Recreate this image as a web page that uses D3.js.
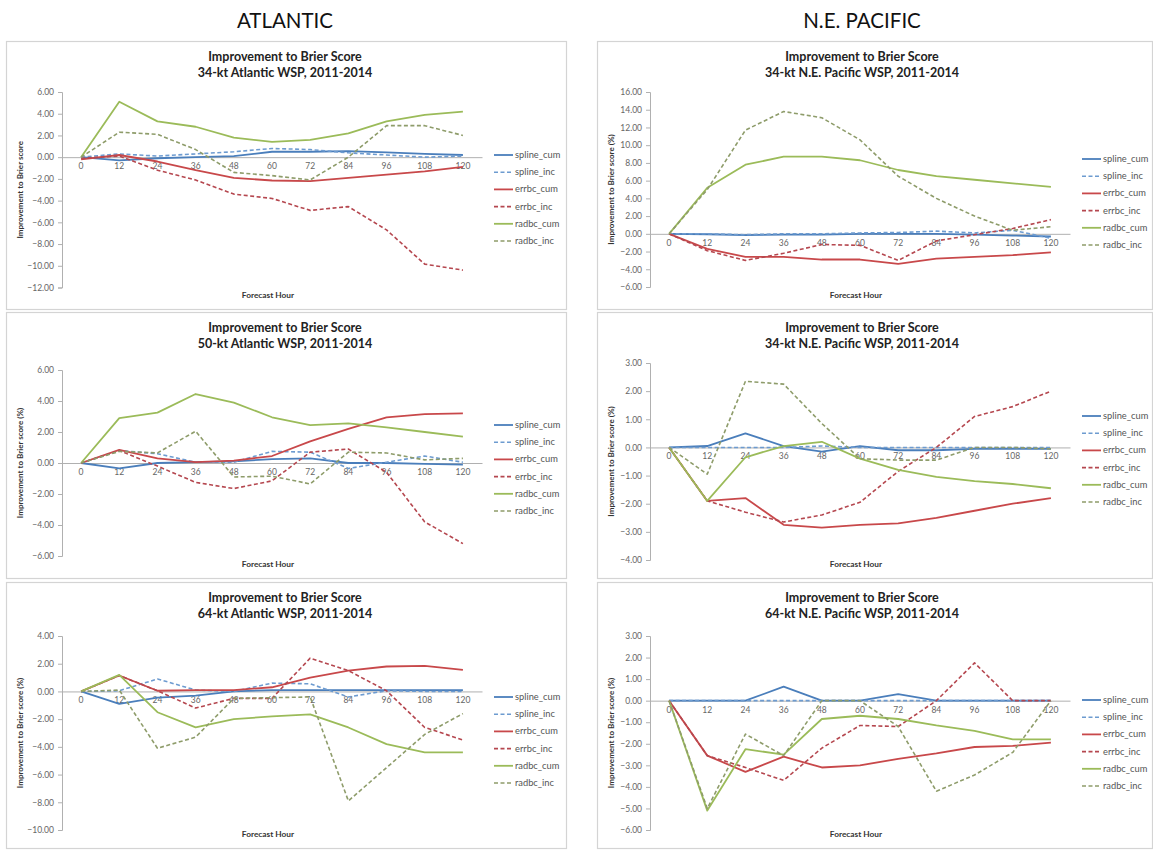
<!DOCTYPE html>
<html><head><meta charset="utf-8">
<script src="https://cdn.jsdelivr.net/npm/d3@7"></script>
<style>
body{margin:0;background:#fff;}
svg{display:block;font-family:Lato,"Open Sans",sans-serif;}
</style></head>
<body><svg id="c" width="1153" height="850"></svg>
<script>
// ---------------- DATA ----------------
const hours = [0,12,24,36,48,60,72,84,96,108,120];
const seriesNames = ["spline_cum","spline_inc","errbc_cum","errbc_inc","radbc_cum","radbc_inc"];
const sectionHeaders = ["ATLANTIC","N.E. PACIFIC"];

// series values per panel, order = seriesNames
const atl34 = [
  [0,-0.3,-0.1,0.0,0.1,0.5,0.5,0.55,0.45,0.3,0.2],
  [0,0.3,0.1,0.3,0.5,0.8,0.7,0.4,0.2,0.0,0.1],
  [-0.2,0.2,-0.4,-1.2,-1.9,-2.15,-2.2,-1.9,-1.6,-1.3,-0.9],
  [-0.1,0.1,-1.2,-2.1,-3.4,-3.8,-4.9,-4.55,-6.7,-9.85,-10.4],
  [0,5.1,3.3,2.8,1.8,1.4,1.6,2.2,3.3,3.9,4.2],
  [0,2.3,2.1,0.7,-1.4,-1.7,-2.1,0.0,2.9,2.9,2.0]
];
const pac34 = [
  [0,-0.05,-0.15,-0.1,-0.1,0,0,0,-0.1,-0.2,-0.3],
  [0,0,-0.1,0,0,0.1,0.15,0.3,0.1,0.4,-0.5],
  [0,-1.7,-2.6,-2.6,-2.9,-2.9,-3.4,-2.8,-2.6,-2.4,-2.1],
  [0,-1.9,-3.0,-2.2,-1.2,-1.3,-3.0,-0.8,-0.1,0.6,1.6],
  [0,5.2,7.8,8.7,8.7,8.3,7.2,6.5,6.1,5.7,5.3],
  [0,5.0,11.7,13.8,13.1,10.6,6.5,4.0,2.0,0.4,0.8]
];
const atl50 = [
  [0,-0.35,0.0,0.05,0.1,0.25,0.3,0.0,0.0,-0.05,-0.1],
  [0,0.8,0.6,0.05,0.05,0.75,0.7,-0.35,0.05,0.45,0.05],
  [0,0.85,0.3,0.05,0.15,0.45,1.4,2.2,2.95,3.15,3.2],
  [0,0.8,-0.2,-1.25,-1.65,-1.15,0.7,0.9,-0.6,-3.8,-5.2],
  [0,2.9,3.25,4.45,3.9,2.95,2.45,2.55,2.3,2.0,1.7],
  [0,0.75,0.65,2.05,-0.9,-0.85,-1.35,0.7,0.65,0.2,0.3]
];
const pac50 = [
  [0,0.05,0.5,0.05,-0.15,0.05,-0.1,-0.1,-0.05,-0.05,-0.05],
  [0,0,0,0,0.05,0,0,0,0,0,0],
  [0,-1.9,-1.8,-2.75,-2.85,-2.75,-2.7,-2.5,-2.25,-2.0,-1.8],
  [0,-1.9,-2.3,-2.65,-2.4,-1.95,-0.85,0.0,1.1,1.45,2.0],
  [0,-1.9,-0.35,0.05,0.2,-0.4,-0.8,-1.05,-1.2,-1.3,-1.45],
  [0,-0.95,2.35,2.25,0.85,-0.4,-0.45,-0.45,0.0,0.0,-0.05]
];
const atl64 = [
  [0,-0.9,-0.45,-0.3,0.0,0.1,0.1,0.1,0.1,0.1,0.1],
  [0,0.05,0.9,0.1,0.0,0.6,0.55,-0.4,0.05,0,0],
  [0,1.15,0.05,0.1,0.1,0.3,1.0,1.5,1.8,1.85,1.55],
  [0,1.15,0.05,-1.2,-0.5,-0.5,2.4,1.5,0.05,-2.6,-3.5],
  [0,1.2,-1.5,-2.6,-2.0,-1.8,-1.65,-2.6,-3.8,-4.4,-4.4],
  [0,0.1,-4.1,-3.3,-0.5,-0.45,-0.4,-7.9,-5.5,-3.1,-1.6]
];
const pac64 = [
  [0,0,0,0.65,0,0,0.3,0,0,0,0],
  [0,0,0,0,0,0,0,0,0,0,0],
  [0,-2.55,-3.3,-2.6,-3.1,-3.0,-2.7,-2.45,-2.15,-2.1,-1.95],
  [0,-2.55,-3.1,-3.7,-2.2,-1.15,-1.2,0.0,1.75,0.0,0.0],
  [0,-5.1,-2.25,-2.5,-0.85,-0.7,-0.85,-1.15,-1.4,-1.8,-1.8],
  [0,-5.0,-1.55,-2.55,0.0,0.0,-1.2,-4.2,-3.45,-2.4,0.0]
];

// y-axis tick values per panel
const atl34Ticks = [6,4,2,0,-2,-4,-6,-8,-10,-12];
const pac34Ticks = [16,14,12,10,8,6,4,2,0,-2,-4,-6];
const atl50Ticks = [6,4,2,0,-2,-4,-6];
const pac50Ticks = [3,2,1,0,-1,-2,-3,-4];
const atl64Ticks = [4,2,0,-2,-4,-6,-8,-10];
const pac64Ticks = [3,2,1,0,-1,-2,-3,-4,-5,-6];

const titleLine1 = "Improvement to Brier Score";
const subtitles = ["34-kt Atlantic WSP, 2011-2014","34-kt N.E. Pacific WSP, 2011-2014",
  "50-kt Atlantic WSP, 2011-2014","34-kt N.E. Pacific WSP, 2011-2014",
  "64-kt Atlantic WSP, 2011-2014","64-kt N.E. Pacific WSP, 2011-2014"];
const yTitles = ["Improvement to Brier score","Improvement to Brier score (%)",
  "Improvement to Brier score (%)","Improvement to Brier score (%)",
  "Improvement to Brier score (%)","Improvement to Brier score (%)"];
const xTitle = "Forecast Hour";

// ---------------- STYLE / LAYOUT ----------------
const colors = {spline:"#4a7ebb", errbc:"#c8484a", radbc:"#9bbb59"};
const incColors = {spline:"#6d9bd0", errbc:"#b5474f", radbc:"#8e9c6a"};

const panels = [
  {data:atl34, ticks:atl34Ticks, fx:6,   fy:41,  fw:560, fh:268, tc:285, x0:62,  x1:482,  yt:92,  yb:287.5, leg:114},
  {data:pac34, ticks:pac34Ticks, fx:597, fy:41,  fw:555, fh:268, tc:862, x0:650, x1:1070, yt:92,  yb:287,   leg:118},
  {data:atl50, ticks:atl50Ticks, fx:6,   fy:312, fw:560, fh:266, tc:285, x0:62,  x1:482,  yt:370, yb:556,   leg:113},
  {data:pac50, ticks:pac50Ticks, fx:597, fy:312, fw:555, fh:266, tc:862, x0:650, x1:1070, yt:363, yb:560,   leg:104},
  {data:atl64, ticks:atl64Ticks, fx:6,   fy:582, fw:560, fh:266, tc:285, x0:62,  x1:482,  yt:636, yb:830,   leg:115},
  {data:pac64, ticks:pac64Ticks, fx:597, fy:582, fw:555, fh:266, tc:862, x0:650, x1:1070, yt:636, yb:830,   leg:118}
];

const svg = d3.select("#c");
svg.append("rect").attr("width",1153).attr("height",850).attr("fill","#fff");

// section headers
svg.append("text").attr("x",285).attr("y",28).attr("text-anchor","middle")
  .attr("font-size",20.5).attr("fill","#111").text(sectionHeaders[0]);
svg.append("text").attr("x",862).attr("y",28).attr("text-anchor","middle")
  .attr("font-size",20.5).attr("fill","#111").text(sectionHeaders[1]);

panels.forEach((p,i)=>{
  const g = svg.append("g");
  g.append("rect").attr("x",p.fx+0.5).attr("y",p.fy+0.5).attr("width",p.fw).attr("height",p.fh)
    .attr("fill","#fff").attr("stroke","#d4d4d4").attr("stroke-width",1.2);

  const x = d3.scaleBand().domain(hours).range([p.x0,p.x1]);
  const y = d3.scaleLinear().domain([d3.min(p.ticks),d3.max(p.ticks)]).range([p.yb,p.yt]);
  const cx = h => x(h)+x.bandwidth()/2;

  // title
  g.append("text").attr("x",p.tc).attr("y",p.fy+20).attr("text-anchor","middle")
    .attr("font-size",12.5).attr("font-weight",700).attr("fill","#222").text(titleLine1);
  g.append("text").attr("x",p.tc).attr("y",p.fy+35.5).attr("text-anchor","middle")
    .attr("font-size",12.5).attr("font-weight",700).attr("fill","#222").text(subtitles[i]);

  // y axis
  const yAxis = d3.axisLeft(y).tickValues(p.ticks).tickFormat(d3.format(".2f")).tickSize(4).tickPadding(4);
  const ya = g.append("g").attr("transform",`translate(${p.x0},0)`).call(yAxis);
  ya.select(".domain").attr("stroke","#b0b0b0");
  ya.selectAll(".tick line").attr("stroke","#b0b0b0");
  ya.selectAll(".tick text").attr("fill","#666").attr("font-size",8.5).attr("font-family","Lato,sans-serif");

  // x axis at zero
  const xAxis = d3.axisBottom(x).tickSize(0).tickPadding(6);
  const xa = g.append("g").attr("transform",`translate(0,${y(0)})`).call(xAxis);
  xa.select(".domain").attr("stroke","#b0b0b0");
  xa.selectAll(".tick text").attr("fill","#666").attr("font-size",8.5).attr("font-family","Lato,sans-serif");

  // axis titles
  g.append("text").attr("transform",`translate(${p.fx+17},${(p.yt+p.yb)/2}) rotate(-90)`)
    .attr("text-anchor","middle").attr("font-size",8).attr("font-weight",700).attr("fill","#333").text(yTitles[i]);
  g.append("text").attr("x",(p.x0+p.x1)/2 - 4).attr("y",p.fy+p.fh-11).attr("text-anchor","middle")
    .attr("font-size",8.3).attr("font-weight",700).attr("fill","#333").text(xTitle);

  // lines
  const line = d3.line().x((d,k)=>cx(hours[k])).y(d=>y(d));
  p.data.forEach((vals,s)=>{
    const name = seriesNames[s];
    const base = name.split("_")[0];
    const inc = name.endsWith("inc");
    g.append("path").datum(vals).attr("d",line).attr("fill","none")
      .attr("stroke", inc ? incColors[base] : colors[base])
      .attr("stroke-width", inc ? 1.6 : 1.8)
      .attr("stroke-dasharray", inc ? "4,2.5" : null)
      .attr("stroke-linejoin","round");
  });

  // legend
  const lx = p.x1 + 12;
  seriesNames.forEach((name,s)=>{
    const base = name.split("_")[0];
    const inc = name.endsWith("inc");
    const ly = p.fy + p.leg + s*17.2;
    g.append("line").attr("x1",lx).attr("x2",lx+19).attr("y1",ly).attr("y2",ly)
      .attr("stroke", inc ? incColors[base] : colors[base]).attr("stroke-width", inc?1.6:1.8)
      .attr("stroke-dasharray", inc ? "4,2.5" : null);
    g.append("text").attr("x",lx+21).attr("y",ly+3).attr("font-size",9.3).attr("fill","#555").text(name);
  });
});
</script></body></html>
